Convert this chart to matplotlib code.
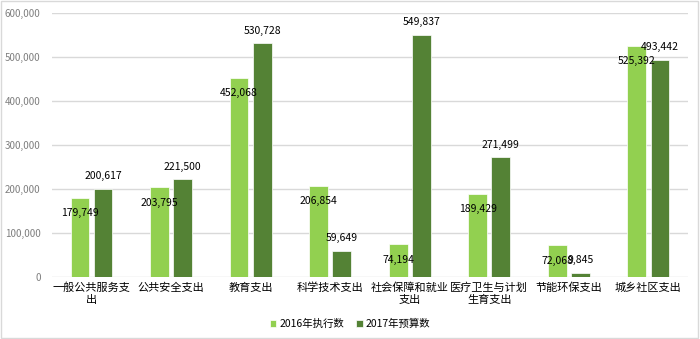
import numpy as np
import matplotlib.pyplot as plt
from matplotlib.patches import Rectangle

plt.rcParams['font.family'] = ['Noto Sans CJK SC', 'DejaVu Sans']

# 数据
categories = ['一般公共服务支\n出', '公共安全支出', '教育支出', '科学技术支出',
              '社会保障和就业\n支出', '医疗卫生与计划\n生育支出', '节能环保支出', '城乡社区支出']
exec_2016 = [179749, 203795, 452068, 206854, 74194, 189429, 72068, 525392]
budget_2017 = [200617, 221500, 530728, 59649, 549837, 271499, 9845, 493442]
yticks = [0, 100000, 200000, 300000, 400000, 500000, 600000]

c_light = '#92d050'
c_dark = '#548235'

fig = plt.figure(figsize=(7, 3.39), dpi=100)
ax = fig.add_axes([0.074, 0.183, 0.909, 0.779])

x = np.arange(len(categories))
w = 0.235
off = 0.145
b1 = ax.bar(x - off, exec_2016, w, color=c_light, edgecolor='white', linewidth=0.5,
            label='2016年执行数', zorder=3)
b2 = ax.bar(x + off, budget_2017, w, color=c_dark, edgecolor='white', linewidth=0.5,
            label='2017年预算数', zorder=3)

# 数据标签
for xi, v in zip(x - off, exec_2016):
    ax.annotate(f'{v:,}', (xi, v), xytext=(0, -11), textcoords='offset points',
                ha='center', va='center', fontsize=7.5, color='black', zorder=4)
for xi, v in zip(x + off, budget_2017):
    ax.annotate(f'{v:,}', (xi, v), xytext=(0, 9), textcoords='offset points',
                ha='center', va='center', fontsize=7.5, color='black', zorder=4)

ax.set_xlim(-0.5, len(categories) - 0.5)
ax.set_ylim(0, 600000)
ax.set_yticks(yticks)
ax.set_yticklabels([f'{t:,}' for t in yticks], fontsize=7, color='#7f7f7f')
ax.set_xticks(x)
ax.set_xticklabels(categories, fontsize=8, color='black', linespacing=1.2)
ax.tick_params(axis='both', length=0)
ax.tick_params(axis='y', pad=8)
ax.tick_params(axis='x', pad=4)
ax.yaxis.grid(True, color='#d9d9d9', linewidth=1, zorder=0)
for s in ax.spines.values():
    s.set_visible(False)

fig.legend(handles=[b1, b2], loc='center', bbox_to_anchor=(0.5, 0.044), ncol=2,
           frameon=False, fontsize=7.5, handlelength=0.6, handleheight=0.6,
           handletextpad=0.3, columnspacing=1.2)

fig.patches.append(Rectangle((0.002, 0.003), 0.995, 0.993, transform=fig.transFigure,
                             fill=False, edgecolor='#d9d9d9', linewidth=1))

fig.savefig('out.png', dpi=100)
